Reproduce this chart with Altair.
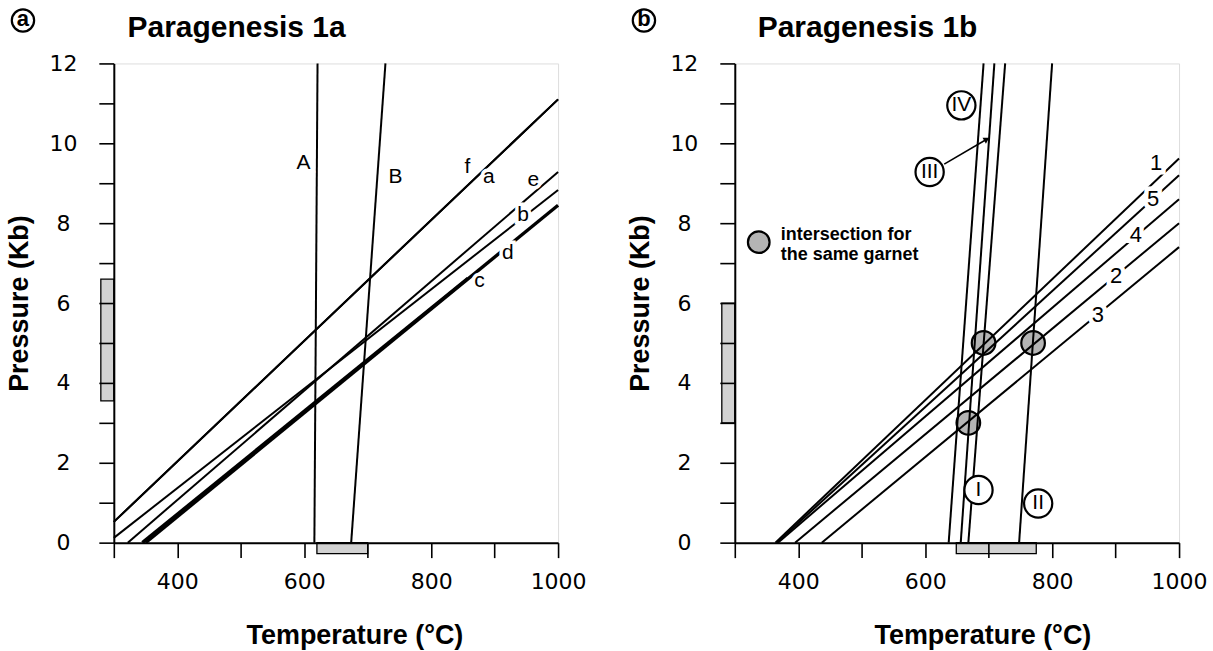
import altair as alt
import pandas as pd

# ---------------- data : panel (a) Paragenesis 1a ----------------
a_line_names = ["A", "B", "f", "a", "e", "b", "c", "d"]
a_t_start = [616, 674, 300, 300, 322, 300, 345, 350]
a_p_start = [0.0, 0.0, 0.52, 0.52, 0.0, 0.12, 0.0, 0.0]
a_t_end = [621, 728, 1000, 1000, 1000, 1000, 858, 1000]
a_p_end = [12.0, 12.0, 11.1, 11.1, 9.28, 8.83, 6.62, 8.45]

a_label_text = ["A", "B", "f", "a", "e", "b", "d", "c"]
a_label_t = [599, 744, 857, 891, 961, 945, 921, 876]
a_label_p = [9.5, 9.15, 9.4, 9.15, 9.08, 8.2, 7.25, 6.55]

a_p_range = [3.55, 6.6]      # shaded pressure range
a_t_range = [620, 700]       # shaded temperature range

# ---------------- data : panel (b) Paragenesis 1b ----------------
b_line_names = ["IV", "III", "I", "II", "1", "5", "4", "2", "3"]
b_t_start = [637, 656, 668, 748, 364, 366, 368, 395, 437]
b_p_start = [0, 0, 0, 0, 0, 0, 0, 0, 0]
b_t_end = [692, 709, 726, 800, 1000, 1000, 1000, 1000, 1000]
b_p_end = [12, 12, 12, 12, 9.62, 9.2, 8.6, 8.0, 7.4]

b_num_text = ["1", "5", "4", "2", "3"]
b_num_t = [964, 959, 932, 901, 872]
b_num_p = [9.5, 8.6, 7.7, 6.68, 5.7]

b_roman_text = ["IV", "III", "I", "II"]
b_roman_t = [657, 607, 684, 778]
b_roman_p = [10.95, 9.28, 1.32, 0.98]

b_garnet_t = [692, 770, 668]
b_garnet_p = [5.0, 5.0, 3.0]

b_arrow_t = [630, 697]
b_arrow_p = [9.48, 10.1]

b_p_range = [3.0, 6.0]
b_t_range = [649, 775]

legend_lines = ["intersection for", "the same garnet"]

# ---------------- styles ----------------
thick = {"c": 3.4, "d": 3.4}
W, H = 445, 480
T_DOM = [300, 1000]
P_DOM = [0, 12]
FONT = "Liberation Sans"
TICKFONT = "DejaVu Sans"
BAR_GRAY = "#d2d2d2"
DOT_GRAY = "#b4b4b4"


def lines_df(names, t0, p0, t1, p1):
    rows = []
    for n, a, b, c, d in zip(names, t0, p0, t1, p1):
        w = thick.get(n, 2.0)
        rows.append({"name": n, "T": a, "P": b, "o": 0, "w": w})
        rows.append({"name": n, "T": c, "P": d, "o": 1, "w": w})
    return pd.DataFrame(rows)


def x_axis(title_x):
    return alt.Axis(
        title="Temperature (°C)", values=list(range(300, 1001, 100)), format="d",
        labelExpr="datum.value % 200 == 0 ? datum.label : ''",
        tickSize=15, tickWidth=1.6, tickColor="black",
        domainColor="black", domainWidth=2, grid=False, zindex=1,
        labelFont=TICKFONT, labelFontSize=22, labelColor="black",
        labelPadding=24, labelBaseline="middle", labelFlush=False, labelOverlap=False,
        titleFont=FONT, titleFontSize=27, titleFontWeight="bold", titleColor="black",
        titleX=title_x, titleY=93, titleBaseline="middle", titleAlign="center",
    )


def y_axis():
    return alt.Axis(
        title="Pressure (Kb)", values=list(range(0, 13)), format="d",
        labelExpr="datum.value % 2 == 0 ? datum.label : ''",
        tickSize=15, tickWidth=1.6, tickColor="black",
        domainColor="black", domainWidth=2, grid=False, zindex=1,
        labelFont=TICKFONT, labelFontSize=22, labelColor="black",
        labelPadding=36, labelAlign="center", labelBaseline="middle",
        labelFlush=False, labelOverlap=False,
        titleFont=FONT, titleFontSize=27, titleFontWeight="bold", titleColor="black",
        titleX=-94, titleY=H / 2, titleAngle=270, titleAlign="center", titleBaseline="middle",
    )


def make_enc(title_x):
    xa = x_axis(title_x)
    ya = y_axis()

    def xs(field="T"):
        return alt.X(f"{field}:Q", scale=alt.Scale(domain=T_DOM, nice=False, zero=False), axis=xa)

    def ys(field="P"):
        return alt.Y(f"{field}:Q", scale=alt.Scale(domain=P_DOM, nice=False, zero=False), axis=ya)

    return xs, ys


def common_layers(xs, ys, ldf, p_range, t_range, letter, title, title_x):
    base_lines = alt.Chart(ldf).mark_line(color="black", strokeCap="butt").encode(
        x=xs("T"),
        y=ys("P"),
        detail="name:N",
        order="o:Q",
        strokeWidth=alt.StrokeWidth("w:Q", scale=None),
    )
    ybar = alt.Chart(pd.DataFrame({"p0": [p_range[0]], "p1": [p_range[1]]})).mark_rect(
        fill=BAR_GRAY, stroke="black", strokeWidth=1.3
    ).encode(x=alt.value(-13), x2=alt.value(0), y=ys("p0"), y2="p1:Q")
    xbar = alt.Chart(pd.DataFrame({"t0": [t_range[0]], "t1": [t_range[1]]})).mark_rect(
        fill=BAR_GRAY, stroke="black", strokeWidth=1.3
    ).encode(x=xs("t0"), x2="t1:Q", y=alt.value(H), y2=alt.value(H + 11))
    tdf = pd.DataFrame({"t": [title]})
    ttl = alt.Chart(tdf).mark_text(
        font=FONT, fontSize=30, fontWeight="bold", color="black", baseline="middle", align="center"
    ).encode(text="t:N", x=alt.value(title_x), y=alt.value(-35))
    ldf2 = pd.DataFrame({"t": [letter]})
    ring = alt.Chart(ldf2).mark_point(
        shape="circle", size=500, filled=False, stroke="black", strokeWidth=2.2, opacity=1
    ).encode(x=alt.value(-91), y=alt.value(-43))
    let = alt.Chart(ldf2).mark_text(
        font=FONT, fontSize=22, fontWeight="bold", color="black", baseline="middle", align="center", dy=-1
    ).encode(text="t:N", x=alt.value(-91), y=alt.value(-43))
    return base_lines, ybar, xbar, ttl, ring, let


# ---------------- panel a ----------------
xs_a, ys_a = make_enc(241)
la = lines_df(a_line_names, a_t_start, a_p_start, a_t_end, a_p_end)
lines_a, ybar_a, xbar_a, ttl_a, ring_a, let_a = common_layers(
    xs_a, ys_a, la, a_p_range, a_t_range, "a", "Paragenesis 1a", 123)
lab_a_df = pd.DataFrame({"txt": a_label_text, "T": a_label_t, "P": a_label_p})
halo_a = alt.Chart(lab_a_df).mark_text(
    font=FONT, fontSize=21, color="white", stroke="white", strokeWidth=7, baseline="middle"
).encode(x=xs_a(), y=ys_a(), text="txt:N")
labs_a = alt.Chart(lab_a_df).mark_text(
    font=FONT, fontSize=21, color="black", baseline="middle"
).encode(x=xs_a(), y=ys_a(), text="txt:N")

panel_a = alt.layer(ybar_a, xbar_a, lines_a, halo_a, labs_a, ttl_a, ring_a, let_a).properties(
    width=W, height=H)

# ---------------- panel b ----------------
xs_b, ys_b = make_enc(248)
lb = lines_df(b_line_names, b_t_start, b_p_start, b_t_end, b_p_end)
lines_b, ybar_b, xbar_b, ttl_b, ring_b, let_b = common_layers(
    xs_b, ys_b, lb, b_p_range, b_t_range, "b", "Paragenesis 1b", 133)

garnet_df = pd.DataFrame({"T": b_garnet_t, "P": b_garnet_p})
garnets = alt.Chart(garnet_df).mark_point(
    shape="circle", size=560, filled=True, fill=DOT_GRAY, stroke="black", strokeWidth=2.2, opacity=1,
    fillOpacity=1
).encode(x=xs_b(), y=ys_b())

num_df = pd.DataFrame({"txt": b_num_text, "T": b_num_t, "P": b_num_p})
halo_b = alt.Chart(num_df).mark_text(
    font=FONT, fontSize=22, color="white", stroke="white", strokeWidth=9, baseline="middle"
).encode(x=xs_b(), y=ys_b(), text="txt:N")
nums_b = alt.Chart(num_df).mark_text(
    font=FONT, fontSize=22, color="black", baseline="middle"
).encode(x=xs_b(), y=ys_b(), text="txt:N")

roman_df = pd.DataFrame({"txt": b_roman_text, "T": b_roman_t, "P": b_roman_p})
roman_ring = alt.Chart(roman_df).mark_point(
    shape="circle", size=800, filled=True, fill="white", stroke="black", strokeWidth=2.2, opacity=1,
    fillOpacity=1
).encode(x=xs_b(), y=ys_b())
roman_txt = alt.Chart(roman_df).mark_text(
    font=FONT, fontSize=21, color="black", baseline="middle"
).encode(x=xs_b(), y=ys_b(), text="txt:N")

arrow_df = pd.DataFrame({"T": b_arrow_t, "P": b_arrow_p, "o": [0, 1]})
arrow_line = alt.Chart(arrow_df).mark_line(color="black", strokeWidth=1.6).encode(
    x=xs_b(), y=ys_b(), order="o:Q")
arrow_head = alt.Chart(arrow_df.iloc[[1]]).mark_point(
    shape="triangle-right", size=45, filled=True, color="black", angle=330, opacity=1
).encode(x=xs_b(), y=ys_b())

leg_dot = alt.Chart(pd.DataFrame({"k": [1]})).mark_point(
    shape="circle", size=470, filled=True, fill=DOT_GRAY, stroke="black", strokeWidth=2.2, opacity=1,
    fillOpacity=1
).encode(x=alt.value(24), y=alt.value(179))
leg_txt1 = alt.Chart(pd.DataFrame({"t": [legend_lines[0]]})).mark_text(
    font=FONT, fontSize=18, fontWeight="bold", color="black", align="left", baseline="middle"
).encode(text="t:N", x=alt.value(46), y=alt.value(172))
leg_txt2 = alt.Chart(pd.DataFrame({"t": [legend_lines[1]]})).mark_text(
    font=FONT, fontSize=18, fontWeight="bold", color="black", align="left", baseline="middle"
).encode(text="t:N", x=alt.value(46), y=alt.value(192))

panel_b = alt.layer(
    ybar_b, xbar_b, garnets, lines_b, halo_b, nums_b, roman_ring, roman_txt,
    arrow_line, arrow_head, leg_dot, leg_txt1, leg_txt2, ttl_b, ring_b, let_b
).properties(width=W, height=H)

chart = alt.hconcat(panel_a, panel_b, spacing=39).properties(
    padding={"left": 5, "top": 3, "right": 5, "bottom": 5}
).configure_view(stroke="black", strokeWidth=2).configure(background="white")

chart.save("out.html", embed_options={"renderer": "svg", "actions": False})
